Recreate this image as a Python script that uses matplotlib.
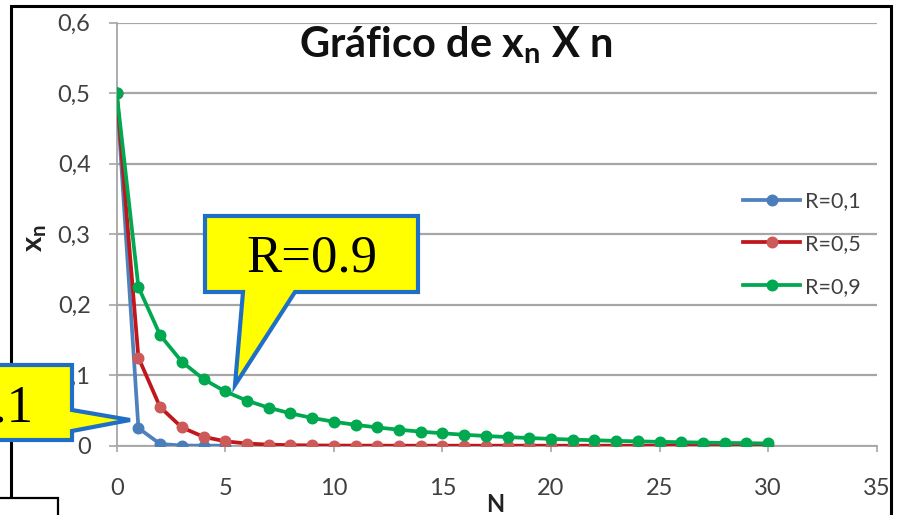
import matplotlib
matplotlib.use("Agg")
import matplotlib.pyplot as plt
from matplotlib.patches import Polygon, Rectangle
from matplotlib.lines import Line2D

# ---- data: logistic iterates x_n for three growth rates ----
n_blue = [0, 1, 2, 3, 4, 5]
x_r01 = [0.5, 0.025, 0.00244, 0.000243, 0.0000243, 0.0000024]

n_long = list(range(31))
x_r05 = [0.5, 0.125, 0.0547, 0.0259, 0.0126, 0.00622, 0.00309, 0.00154,
         0.00077, 0.000384, 0.000192, 0.0000960, 0.0000480, 0.0000240,
         0.0000120, 0.0000060, 0.0000030, 0.0000015, 0.00000075,
         0.00000037, 0.00000019, 0.00000009, 0.00000005, 0.00000002,
         0.00000001, 0.0, 0.0, 0.0, 0.0, 0.0, 0.0]
x_r09 = [0.5, 0.225, 0.1569, 0.1191, 0.0944, 0.0769, 0.0639, 0.0539,
         0.0459, 0.0394, 0.0340, 0.0296, 0.0259, 0.0227, 0.0199, 0.0176,
         0.0155, 0.0138, 0.0122, 0.0109, 0.00968, 0.00863, 0.00770,
         0.00687, 0.00614, 0.00550, 0.00492, 0.00440, 0.00395, 0.00354,
         0.00317]

series_labels = ["R=0,1", "R=0,5", "R=0,9"]
x_ticks = [0, 5, 10, 15, 20, 25, 30, 35]
y_ticks = [0, 0.1, 0.2, 0.3, 0.4, 0.5, 0.6]
y_tick_labels = ["0", "0,1", "0,2", "0,3", "0,4", "0,5", "0,6"]
callout_texts = ["R=0.9", "R=0.1"]

# ---- figure setup ----
W, H = 901, 515
plt.rcParams["font.family"] = ["Lato", "DejaVu Sans"]
plt.rcParams["mathtext.fontset"] = "custom"
plt.rcParams["mathtext.rm"] = "Lato:bold"
plt.rcParams["mathtext.it"] = "Lato:bold"
plt.rcParams["mathtext.bf"] = "Lato:bold"

fig = plt.figure(figsize=(W / 100, H / 100), dpi=100)
fig.patch.set_facecolor("white")


def fx(x):
    return x / W


def fy(y):
    return 1 - y / H


x0, x1, y0, y1 = 116.7, 876.7, 22.7, 445.7
ax = fig.add_axes([fx(x0), fy(y1), (x1 - x0) / W, (y1 - y0) / H])
ax.set_xlim(0, 35)
ax.set_ylim(0, 0.6)

grid_c = "#a6a6a6"
ax.set_yticks(y_ticks)
ax.set_yticklabels(y_tick_labels)
ax.set_xticks(x_ticks)
ax.yaxis.grid(True, color=grid_c, linewidth=1.6)
ax.set_axisbelow(True)
for s in ["top", "right"]:
    ax.spines[s].set_visible(False)
for s in ["left", "bottom"]:
    ax.spines[s].set_color(grid_c)
    ax.spines[s].set_linewidth(1.3)
ax.tick_params(axis="y", direction="out", length=5.8, width=1.2, color=grid_c,
               pad=13, labelsize=17, labelcolor="#404040")
ax.tick_params(axis="x", direction="out", length=4.3, width=1.2, color=grid_c,
               pad=19, labelsize=17, labelcolor="#404040")

blue, red, green = "#4f81bd", "#c0161c", "#00a850"
lw, ms = 2.7, 7.6
ax.plot(n_blue, x_r01, color=blue, lw=lw, marker="o", ms=ms,
        mfc="#4a7ebb", mec="#4a7ebb", zorder=3)
ax.plot(n_long, x_r05, color=red, lw=lw, marker="o", ms=ms,
        mfc="#cd5a58", mec="#cd5a58", zorder=4)
ax.plot(n_long, x_r09, color=green, lw=lw, marker="o", ms=ms,
        mfc=green, mec=green, zorder=5)

handles = [
    Line2D([], [], color=blue, lw=lw, marker="o", ms=ms, mfc="#4a7ebb", mec="#4a7ebb"),
    Line2D([], [], color=red, lw=lw, marker="o", ms=ms, mfc="#cd5a58", mec="#cd5a58"),
    Line2D([], [], color=green, lw=lw, marker="o", ms=ms, mfc=green, mec=green),
]
fig.legend(handles, series_labels, loc="center left",
           bbox_to_anchor=(fx(743), fy(244)), frameon=False,
           borderpad=0, borderaxespad=0, handlelength=2.65,
           handletextpad=0.25, labelspacing=1.05, numpoints=1,
           prop={"size": 15.5}, labelcolor="#404040")

# titles
fig.text(fx(456), fy(57), "Gráfico de $\\mathrm{x}_\\mathrm{n}$ X n",
         ha="center", va="baseline", fontsize=30, fontweight="bold",
         color="#111111")
fig.text(fx(495), fy(505), "N", ha="center", va="center", fontsize=17,
         fontweight="bold", color="#222222")
fig.text(fx(36), fy(238), "$\\mathrm{x}_\\mathrm{n}$", ha="center",
         va="center", rotation=90, fontsize=21, color="#222222")

# outer frame
fig.add_artist(Rectangle((fx(11), fy(530)), (891 - 11) / W, (530 - 6) / H,
                         transform=fig.transFigure, fill=False,
                         edgecolor="black", linewidth=2.2, zorder=8))
# small box at the lower-left corner
fig.add_artist(Rectangle((fx(-5), fy(530)), 63 / W, 32 / H,
                         transform=fig.transFigure, facecolor="white",
                         edgecolor="black", linewidth=1.6, zorder=9))

# callouts
call_fc, call_ec = "#ffff00", "#1f6fc6"


def callout(pts):
    poly = Polygon([(fx(px), fy(py)) for px, py in pts], closed=True,
                   transform=fig.transFigure, facecolor=call_fc,
                   edgecolor=call_ec, linewidth=3.0, joinstyle="miter",
                   zorder=10)
    fig.add_artist(poly)


callout([(205, 216), (418, 216), (418, 292), (295, 292), (235, 385),
         (243, 292), (205, 292)])
fig.text(fx(312), fy(272), callout_texts[0], ha="center", va="baseline",
         fontsize=38, family="Liberation Serif", color="black", zorder=11)

callout([(-150, 365), (72, 365), (72, 410), (130, 420), (72, 431),
         (72, 440), (-150, 440)])
fig.text(fx(33), fy(421), callout_texts[1], ha="right", va="baseline",
         fontsize=38, family="Liberation Serif", color="black", zorder=11)

fig.savefig("out.png", dpi=100, facecolor="white")
